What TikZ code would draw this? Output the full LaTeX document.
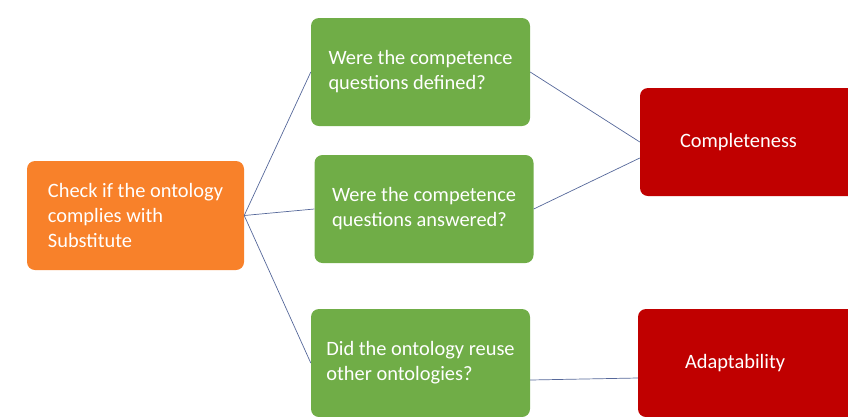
\documentclass[tikz,border=0pt]{standalone}
\usepackage{fontspec}
\setmainfont{Carlito}
\usepackage{tikz}

\definecolor{rootorange}{HTML}{F8812A}
\definecolor{qgreen}{HTML}{70AD47}
\definecolor{resred}{HTML}{C00000}
\definecolor{linkblue}{HTML}{56689A}

\tikzset{
    box/.style={rounded corners=8pt, text=white, font=\fontsize{20.4}{25}\selectfont, align=left, inner sep=0pt},
    root/.style={box, fill=rootorange, minimum width=217pt, minimum height=109pt},
    question/.style={box, fill=qgreen, minimum width=219pt, minimum height=108pt},
    result/.style={box, fill=resred, text width=200pt, minimum height=108pt},
    link/.style={draw=linkblue, line width=0.7pt}
}

\begin{document}
\begin{tikzpicture}[x=1pt,y=-1pt]
    \useasboundingbox (0,0) rectangle (848,416);
    \clip (0,0) rectangle (848,416);

    \node[root] (check) at (135.5,215.5) {Check if the ontology\\complies with\\Substitute};
    \node[question] (q_1) at (420.5,72) {Were the competence\\questions defined?};
    \node[question] (q_2) at (424,209) {Were the competence\\questions answered?};
    \node[question] (q_3) at (420.5,363) {Did the ontology reuse\\other ontologies?};
    \node[result, inner xsep=40pt] (r_1) at (780,142) {Completeness\\[4pt]};
    \node[result, inner xsep=47pt] (r_2) at (785,363) {Adaptability\\[4pt]};

    \path[link]
    (check.east) edge (q_1.west)
    (check.east) edge (q_2.west)
    (check.east) edge (q_3.west)
    (q_1.east) edge (r_1.west)
    (q_2.east) edge ([yshift=-16pt]r_1.west)
    ([yshift=-17pt]q_3.east) edge ([yshift=-15pt]r_2.west)
    ;
\end{tikzpicture}
\end{document}
